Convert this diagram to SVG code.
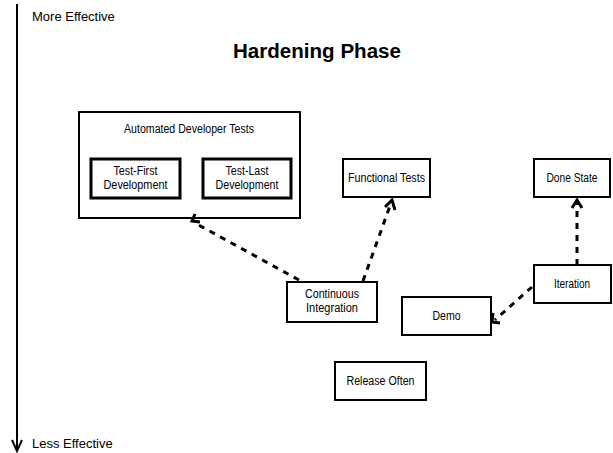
<svg xmlns="http://www.w3.org/2000/svg" width="613" height="453" viewBox="0 0 613 453">
<style>
.box{fill:#fff;stroke:#000;stroke-width:2}
.inner{fill:#fff;stroke:#000;stroke-width:3}
.t{font-family:"Liberation Sans",Arial,sans-serif;font-size:12px;fill:#000;text-anchor:middle}
.side{font-family:"Liberation Sans",Arial,sans-serif;font-size:13px;fill:#000}
.title{font-family:"Liberation Sans",Arial,sans-serif;font-size:20px;font-weight:bold;fill:#000;text-anchor:middle}
.dash{fill:none;stroke:#000;stroke-width:3;stroke-dasharray:6 6}
.head{fill:none;stroke:#000;stroke-width:3}
</style>
<rect width="613" height="453" fill="#fff"/>
<g id="axis">
<line x1="17" y1="4" x2="17" y2="450" stroke="#000" stroke-width="2"/>
<polyline points="12,440 17,451 22,440" fill="none" stroke="#000" stroke-width="2"/>
<text class="side" x="32" y="21">More Effective</text>
<text class="side" x="32" y="448">Less Effective</text>
</g>
<text class="title" x="317" y="58" textLength="168" lengthAdjust="spacingAndGlyphs">Hardening Phase</text>
<g id="automated">
<rect class="box" x="79" y="112" width="221" height="106"/>
<text class="t" x="189" y="133" textLength="130" lengthAdjust="spacingAndGlyphs">Automated Developer Tests</text>
</g>
<g id="testfirst">
<rect class="inner" x="91" y="159" width="89" height="39"/>
<text class="t" x="135.5" y="175" textLength="44" lengthAdjust="spacingAndGlyphs">Test-First</text>
<text class="t" x="135.5" y="189" textLength="64" lengthAdjust="spacingAndGlyphs">Development</text>
</g>
<g id="testlast">
<rect class="inner" x="203" y="159" width="88" height="39"/>
<text class="t" x="247" y="175" textLength="43" lengthAdjust="spacingAndGlyphs">Test-Last</text>
<text class="t" x="247" y="189" textLength="63" lengthAdjust="spacingAndGlyphs">Development</text>
</g>
<g id="functional">
<rect class="box" x="343" y="159" width="87" height="38"/>
<text class="t" x="386.5" y="182" textLength="77" lengthAdjust="spacingAndGlyphs">Functional Tests</text>
</g>
<g id="done">
<rect class="box" x="534" y="159" width="76" height="38"/>
<text class="t" x="572" y="182" textLength="51" lengthAdjust="spacingAndGlyphs">Done State</text>
</g>
<g id="iteration">
<rect class="box" x="534" y="265" width="77" height="38"/>
<text class="t" x="572" y="288" textLength="36" lengthAdjust="spacingAndGlyphs">Iteration</text>
</g>
<g id="ci">
<rect class="box" x="287" y="282" width="90" height="40"/>
<text class="t" x="332" y="298" textLength="54" lengthAdjust="spacingAndGlyphs">Continuous</text>
<text class="t" x="332" y="312" textLength="52" lengthAdjust="spacingAndGlyphs">Integration</text>
</g>
<g id="demo">
<rect class="box" x="402" y="297" width="89" height="38"/>
<text class="t" x="446.5" y="320" textLength="28" lengthAdjust="spacingAndGlyphs">Demo</text>
</g>
<g id="release">
<rect class="box" x="335" y="362" width="91" height="38"/>
<text class="t" x="380.5" y="385" textLength="68" lengthAdjust="spacingAndGlyphs">Release Often</text>
</g>
<g id="connectors">
<line class="dash" x1="299" y1="280" x2="195" y2="223"/>
<polyline class="head" points="195,214 192,221 200,222"/>
<line class="dash" x1="363" y1="281" x2="391" y2="203"/>
<polyline class="head" points="385,207 392,200 395,210"/>
<line class="dash" x1="577" y1="265" x2="577" y2="202"/>
<polyline class="head" points="572,208 577,200 582,208"/>
<line class="dash" x1="532" y1="287" x2="495" y2="320"/>
<polyline class="head" points="493,313 492,322 500,323"/>
</g>
</svg>
